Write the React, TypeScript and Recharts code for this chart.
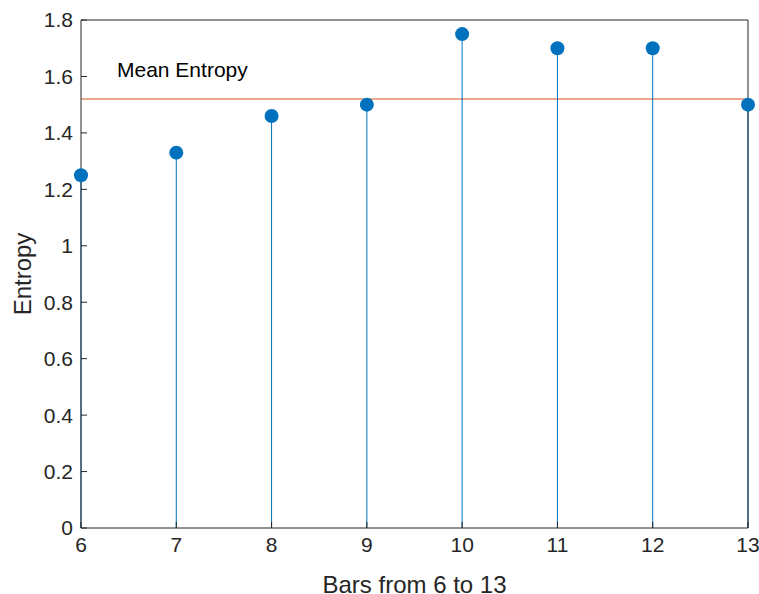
import {
  ComposedChart,
  XAxis,
  YAxis,
  Scatter,
  ReferenceLine,
  Label,
} from "recharts";

const BAR_COUNTS = [6, 7, 8, 9, 10, 11, 12, 13];
const ENTROPY = [1.25, 1.33, 1.46, 1.5, 1.75, 1.7, 1.7, 1.5];
const MEAN_ENTROPY = 1.52;
const Y_TICKS = [0, 0.2, 0.4, 0.6, 0.8, 1, 1.2, 1.4, 1.6, 1.8];

const points = BAR_COUNTS.map((x, i) => ({ x, y: ENTROPY[i] }));

const AXIS = "#262626";
const FONT = "'Liberation Sans', Arial, Helvetica, sans-serif";
const tickStyle = { fill: AXIS, fontSize: 21, fontFamily: FONT };

export default function App() {
  return (
    <div style={{ position: "absolute", left: 0, top: 0, background: "#fff" }}>
      <ComposedChart
        width={759}
        height={594}
        data={points}
        margin={{ top: 19, right: 10, left: 0, bottom: 0 }}
      >
        <XAxis
          dataKey="x"
          type="number"
          domain={[6, 13]}
          ticks={BAR_COUNTS}
          height={66}
          stroke={AXIS}
          tick={tickStyle}
          tickSize={-6}
          tickMargin={15}
        >
          <Label
            value="Bars from 6 to 13"
            position="insideBottom"
            offset={1}
            style={{ fill: AXIS, fontSize: 24, fontFamily: FONT }}
          />
        </XAxis>
        <XAxis
          xAxisId="top"
          orientation="top"
          type="number"
          domain={[6, 13]}
          ticks={BAR_COUNTS}
          height={1}
          stroke={AXIS}
          tick={false}
          tickSize={-6}
        />
        <YAxis
          type="number"
          domain={[0, 1.8]}
          ticks={Y_TICKS}
          width={81}
          stroke={AXIS}
          tick={tickStyle}
          tickSize={-6}
          tickMargin={14}
        >
          <Label
            value="Entropy"
            angle={-90}
            position="insideLeft"
            offset={22}
            style={{ fill: AXIS, fontSize: 24, fontFamily: FONT, textAnchor: "middle" }}
          />
        </YAxis>
        <YAxis
          yAxisId="right"
          orientation="right"
          type="number"
          domain={[0, 1.8]}
          ticks={Y_TICKS}
          width={1}
          stroke={AXIS}
          tick={false}
          tickSize={-6}
        />
        <ReferenceLine
          y={MEAN_ENTROPY}
          stroke="#D95319"
          strokeWidth={1}
          label={(props: any) => {
            const vb = props.viewBox;
            return (
              <text
                x={vb.x + 36}
                y={vb.y - 22}
                fill="#000"
                fontSize={21}
                fontFamily={FONT}
              >
                Mean Entropy
              </text>
            );
          }}
        />
        {points.map((p) => (
          <ReferenceLine
            key={p.x}
            segment={[
              { x: p.x, y: 0 },
              { x: p.x, y: p.y },
            ]}
            stroke="#0072BD"
            strokeWidth={1}
            ifOverflow="visible"
          />
        ))}
        <Scatter
          dataKey="y"
          fill="#0072BD"
          isAnimationActive={false}
          shape={(props: any) => (
            <circle cx={props.cx} cy={props.cy} r={7} fill="#0072BD" />
          )}
        />
      </ComposedChart>
    </div>
  );
}
